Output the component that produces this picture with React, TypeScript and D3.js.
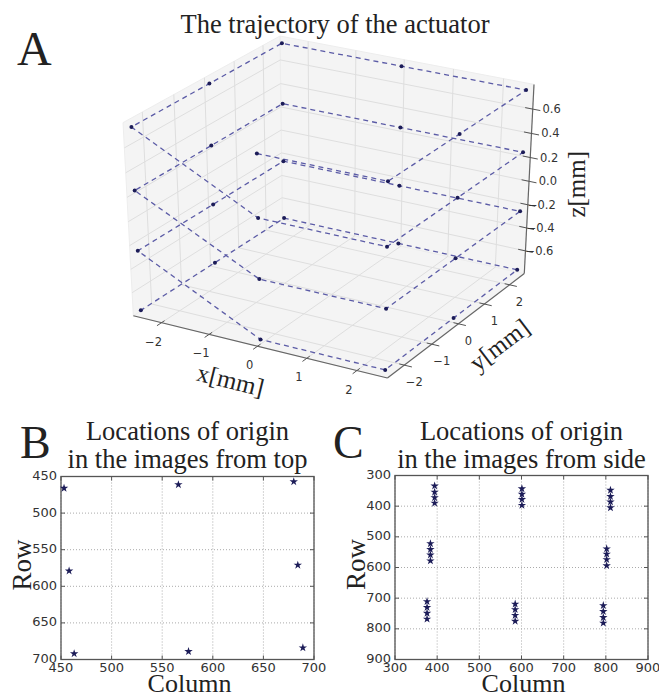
import React, { useRef, useEffect } from 'react';
import * as d3 from 'd3';

// panel A: perimeter stops (mm) visited on every level, levels from top to bottom
const stopX = [0, 2.5, 2.5, 2.5, 0, -2.5, -2.5, -2.5];
const stopY = [-2.5, -2.5, 0, 2.5, 2.5, 2.5, 0, -2.5];
const levelZ = [0.76, 0.25, -0.25, -0.76];

const xLim = [-2.6, 2.6];
const yLim = [-2.6, 2.6];
const zLim = [-0.8, 0.8];
const xyTicks = [-2, -1, 0, 1, 2];
const zTicks = [-0.6, -0.4, -0.2, 0, 0.2, 0.4, 0.6];

// panel B: origin in the images from top
const topCol = [453, 566, 680, 458, 684, 463, 576, 689];
const topRow = [466, 461, 457, 579, 571, 692, 689, 684];
const topTicks = [450, 500, 550, 600, 650, 700];

// panel C: origin in the images from side (4 levels per stop)
const sideCol = [
  394, 394, 394, 394, 601, 601, 601, 601, 811, 811, 811, 811,
  384, 384, 384, 384, 802, 802, 802, 802,
  376, 376, 376, 376, 585, 585, 585, 585, 794, 794, 794, 794,
];
const sideRow = [
  334, 354, 372, 390, 343, 361, 378, 397, 348, 368, 386, 405,
  522, 541, 559, 578, 539, 556, 574, 594,
  711, 730, 749, 768, 719, 737, 756, 775, 724, 743, 763, 781,
];
const sideTicks = [300, 400, 500, 600, 700, 800, 900];

const W = 659;
const H = 697;
const serif = "'Liberation Serif', 'DejaVu Serif', serif";
const sans = "'DejaVu Sans', sans-serif";
const lineColor = '#5b5ba6';
const markColor = '#1c1c58';
const fmtZ = d3.format('.1f');

function draw3d(svg) {
  const deg = Math.PI / 180;
  const azim = -60 * deg, elev = 30 * deg, dist = 10;
  const nx = d3.scaleLinear().domain(xLim).range([0, 1]);
  const ny = d3.scaleLinear().domain(yLim).range([0, 1]);
  const nz = d3.scaleLinear().domain(zLim).range([0, 1]);

  const sub = (a, b) => a.map((d, i) => d - b[i]);
  const norm = a => { const m = Math.hypot(...a); return a.map(d => d / m); };
  const cross = (a, b) => [a[1] * b[2] - a[2] * b[1], a[2] * b[0] - a[0] * b[2], a[0] * b[1] - a[1] * b[0]];
  const dot = (a, b) => a[0] * b[0] + a[1] * b[1] + a[2] * b[2];

  // same camera as matplotlib's mplot3d default view
  const eye = [
    0.5 + Math.cos(azim) * Math.cos(elev) * dist,
    0.5 + Math.sin(azim) * Math.cos(elev) * dist,
    0.5 + Math.sin(elev) * dist,
  ];
  const n = norm(sub(eye, [0.5, 0.5, 0.5]));
  const u = norm(cross([0, 0, 1], n));
  const v = cross(n, u);
  const persp = (x, y, z) => {
    const p = sub([nx(x), ny(y), nz(z)], eye);
    const w = -dot(n, p);
    return [dot(u, p) / w, dot(v, p) / w];
  };

  // fit the box into the panel
  const corners = [];
  xLim.forEach(x => yLim.forEach(y => zLim.forEach(z => corners.push(persp(x, y, z)))));
  const sx = d3.scaleLinear().domain(d3.extent(corners, c => c[0])).range([123, 534]);
  const sy = d3.scaleLinear().domain(d3.extent(corners, c => c[1])).range([378, 36]);
  const P = (x, y, z) => { const [a, b] = persp(x, y, z); return [sx(a), sy(b)]; };
  const line = d3.line();

  const [x0, x1] = xLim, [y0, y1] = yLim, [z0, z1] = zLim;
  const g = svg.append('g');

  // panes
  const panes = [
    [[x0, y0, z0], [x1, y0, z0], [x1, y1, z0], [x0, y1, z0]],
    [[x0, y1, z0], [x1, y1, z0], [x1, y1, z1], [x0, y1, z1]],
    [[x0, y0, z0], [x0, y1, z0], [x0, y1, z1], [x0, y0, z1]],
  ];
  g.selectAll('.pane').data(panes).join('path')
    .attr('d', d => line(d.map(p => P(...p))) + 'Z')
    .attr('fill', '#f4f4f4')
    .attr('stroke', '#ededed');

  // grid lines on the panes
  const grid = [];
  xyTicks.forEach(t => {
    grid.push([[t, y0, z0], [t, y1, z0]]);
    grid.push([[t, y1, z0], [t, y1, z1]]);
    grid.push([[x0, t, z0], [x1, t, z0]]);
    grid.push([[x0, t, z0], [x0, t, z1]]);
  });
  zTicks.forEach(t => {
    grid.push([[x0, y1, t], [x1, y1, t]]);
    grid.push([[x0, y0, t], [x0, y1, t]]);
  });
  g.selectAll('.grid').data(grid).join('path')
    .attr('d', d => line(d.map(p => P(...p))))
    .attr('fill', 'none')
    .attr('stroke', '#dedede')
    .attr('stroke-width', 1);

  // axis lines
  const axes = [
    [[x0, y0, z0], [x1, y0, z0]],
    [[x1, y0, z0], [x1, y1, z0]],
    [[x1, y1, z0], [x1, y1, z1]],
  ];
  g.selectAll('.axis').data(axes).join('path')
    .attr('d', d => line(d.map(p => P(...p))))
    .attr('stroke', '#666')
    .attr('stroke-width', 1.2);

  // ticks and labels
  const tickLines = [];
  xyTicks.forEach(t => {
    tickLines.push([[t, y0 + 0.1, z0], [t, y0 - 0.15, z0]]);
    tickLines.push([[x1 - 0.1, t, z0], [x1 + 0.15, t, z0]]);
  });
  zTicks.forEach(t => tickLines.push([[x1 - 0.15, y1, t], [x1 + 0.15, y1, t]]));
  g.selectAll('.tick').data(tickLines).join('path')
    .attr('d', d => line(d.map(p => P(...p))))
    .attr('stroke', '#555')
    .attr('stroke-width', 1);

  const tickText = g.append('g')
    .attr('font-family', sans)
    .attr('font-size', 11.5)
    .attr('fill', '#333')
    .attr('dominant-baseline', 'central');
  tickText.selectAll('.xt').data(xyTicks).join('text')
    .attr('x', d => P(d, y0, z0)[0] - 8)
    .attr('y', d => P(d, y0, z0)[1] + 19)
    .attr('text-anchor', 'middle')
    .text(d => d3.format('d')(d));
  tickText.selectAll('.yt').data(xyTicks).join('text')
    .attr('x', d => P(x1, d, z0)[0] + 10)
    .attr('y', d => P(x1, d, z0)[1] + 17)
    .attr('text-anchor', 'middle')
    .text(d => d3.format('d')(d));
  tickText.selectAll('.zt').data(zTicks).join('text')
    .attr('x', d => P(x1, y1, d)[0] + 28)
    .attr('y', d => P(x1, y1, d)[1])
    .attr('text-anchor', 'end')
    .text(d => fmtZ(d));

  // axis titles
  const angle = (a, b) => Math.atan2(b[1] - a[1], b[0] - a[0]) / deg;
  const xa = angle(P(x0, y0, z0), P(x1, y0, z0));
  const ya = angle(P(x1, y0, z0), P(x1, y1, z0));
  const xl = P(0, y0, z0), yl = P(x1, 0, z0), zl = P(x1, y1, 0);
  const axisTitle = (pos, rot, label) => g.append('text')
    .attr('transform', `translate(${pos[0]},${pos[1]}) rotate(${rot})`)
    .attr('text-anchor', 'middle')
    .attr('dominant-baseline', 'central')
    .attr('font-family', serif)
    .attr('font-size', 25)
    .attr('fill', '#222')
    .text(label);
  axisTitle([xl[0] - 27, xl[1] + 34], xa, 'x[mm]');
  axisTitle([yl[0] + 41, yl[1] + 21], ya, 'y[mm]');
  axisTitle([zl[0] + 47, zl[1] + 3], -90, 'z[mm]');

  // trajectory
  const traj = levelZ.flatMap(z => stopX.map((x, i) => P(x, stopY[i], z)));
  g.append('path')
    .attr('d', line(traj))
    .attr('fill', 'none')
    .attr('stroke', lineColor)
    .attr('stroke-width', 1.3)
    .attr('stroke-dasharray', '5,4');
  g.selectAll('.pt').data(traj).join('circle')
    .attr('cx', d => d[0])
    .attr('cy', d => d[1])
    .attr('r', 2)
    .attr('fill', markColor);

  g.append('text')
    .attr('x', 335).attr('y', 33)
    .attr('text-anchor', 'middle')
    .attr('font-family', serif)
    .attr('font-size', 26.5)
    .attr('fill', '#222')
    .text('The trajectory of the actuator');
}

function drawScatter(svg, opts) {
  const { cols, rows, ticks, left, right, top, bottom, letter, letterX, subtitle } = opts;
  const x = d3.scaleLinear().domain(d3.extent(ticks)).range([left, right]);
  const y = d3.scaleLinear().domain(d3.extent(ticks)).range([top, bottom]);
  const g = svg.append('g');
  const cx = (left + right) / 2;

  // dotted grid
  g.selectAll('.gx').data(ticks).join('line')
    .attr('x1', d => x(d)).attr('x2', d => x(d))
    .attr('y1', top).attr('y2', bottom)
    .attr('stroke', '#aaa').attr('stroke-width', 1).attr('stroke-dasharray', '1,2');
  g.selectAll('.gy').data(ticks).join('line')
    .attr('y1', d => y(d)).attr('y2', d => y(d))
    .attr('x1', left).attr('x2', right)
    .attr('stroke', '#aaa').attr('stroke-width', 1).attr('stroke-dasharray', '1,2');

  // inward ticks on all sides
  const tk = g.append('g').attr('stroke', '#555').attr('stroke-width', 1);
  ticks.forEach(t => {
    tk.append('line').attr('x1', x(t)).attr('x2', x(t)).attr('y1', bottom).attr('y2', bottom - 4);
    tk.append('line').attr('x1', x(t)).attr('x2', x(t)).attr('y1', top).attr('y2', top + 4);
    tk.append('line').attr('y1', y(t)).attr('y2', y(t)).attr('x1', left).attr('x2', left + 4);
    tk.append('line').attr('y1', y(t)).attr('y2', y(t)).attr('x1', right).attr('x2', right - 4);
  });

  g.append('rect')
    .attr('x', left).attr('y', top)
    .attr('width', right - left).attr('height', bottom - top)
    .attr('fill', 'none').attr('stroke', '#555').attr('stroke-width', 1.3);

  const lab = g.append('g').attr('font-family', sans).attr('font-size', 13).attr('fill', '#333');
  lab.selectAll('.xl').data(ticks).join('text')
    .attr('x', d => x(d)).attr('y', bottom + 12)
    .attr('text-anchor', 'middle')
    .text(d => d);
  lab.selectAll('.yl').data(ticks).join('text')
    .attr('x', left - 4).attr('y', d => y(d) - 1)
    .attr('text-anchor', 'end')
    .attr('dominant-baseline', 'central')
    .text(d => d);

  g.selectAll('.pt').data(cols).join('path')
    .attr('transform', (d, i) => `translate(${x(d)},${y(rows[i])})`)
    .attr('d', d3.symbol(d3.symbolStar, 22))
    .attr('fill', markColor);

  const st = g.append('g').attr('font-family', serif).attr('fill', '#222');
  st.append('text').attr('x', cx).attr('y', 440).attr('text-anchor', 'middle')
    .attr('font-size', 26.5).text('Locations of origin');
  st.append('text').attr('x', cx).attr('y', 468).attr('text-anchor', 'middle')
    .attr('font-size', 26.5).text(subtitle);
  st.append('text').attr('x', cx + 2).attr('y', 692).attr('text-anchor', 'middle')
    .attr('font-size', 26).text('Column');
  st.append('text')
    .attr('transform', `translate(${left - 30},${(top + bottom) / 2 - 3}) rotate(-90)`)
    .attr('text-anchor', 'middle')
    .attr('font-size', 27).text('Row');
  st.append('text').attr('x', letterX).attr('y', 458)
    .attr('font-size', 46).text(letter);
}

export default function App() {
  const svgRef = useRef(null);

  useEffect(() => {
    const svg = d3.select(svgRef.current);
    svg.selectAll('*').remove();

    svg.append('text')
      .attr('x', 17).attr('y', 65)
      .attr('font-family', serif)
      .attr('font-size', 48)
      .attr('fill', '#222')
      .text('A');

    draw3d(svg);
    drawScatter(svg, {
      cols: topCol, rows: topRow, ticks: topTicks,
      left: 61, right: 314, top: 476.5, bottom: 659.5,
      letter: 'B', letterX: 20, subtitle: 'in the images from top',
    });
    drawScatter(svg, {
      cols: sideCol, rows: sideRow, ticks: sideTicks,
      left: 395, right: 648, top: 475.5, bottom: 659.5,
      letter: 'C', letterX: 333, subtitle: 'in the images from side',
    });
  }, []);

  return (
    <svg ref={svgRef} width={W} height={H}
      style={{ position: 'absolute', left: 0, top: 0, background: '#fff' }} />
  );
}
